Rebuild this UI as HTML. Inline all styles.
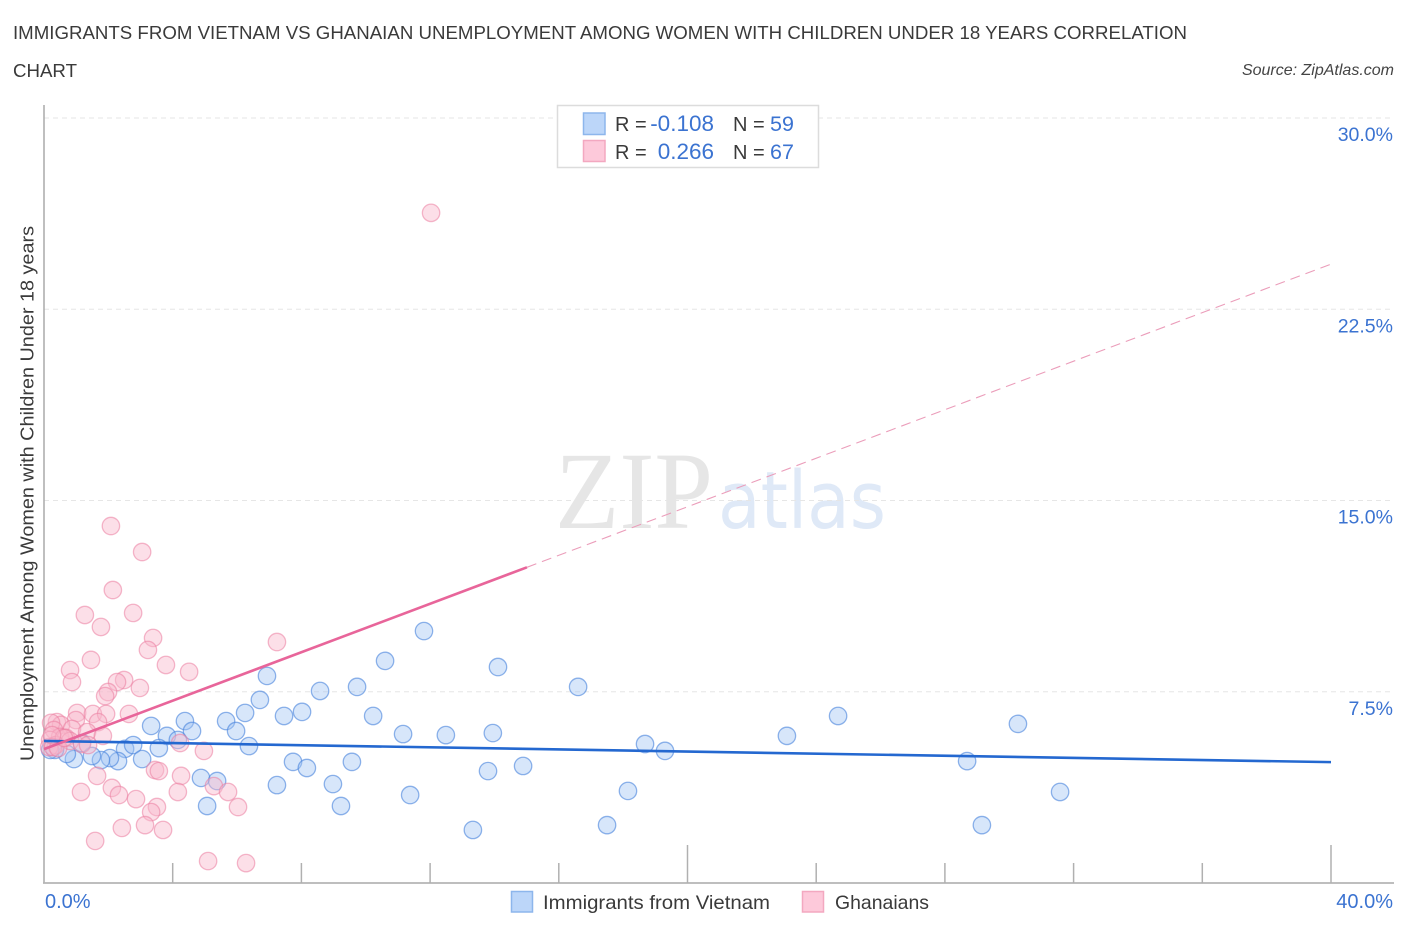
<!DOCTYPE html>
<html>
<head>
<meta charset="utf-8">
<title>Immigrants from Vietnam vs Ghanaian Unemployment Correlation Chart</title>
<style>
html,body{margin:0;padding:0;background:#fff;width:1406px;height:930px;overflow:hidden}
svg{display:block;font-family:"Liberation Sans",sans-serif}
</style>
</head>
<body>
<svg id="chart" width="1406" height="930" viewBox="0 0 1406 930" xmlns="http://www.w3.org/2000/svg">
  <rect x="0" y="0" width="1406" height="930" fill="#ffffff"/>
  <text x="13" y="39" font-size="18.5" fill="#3a3a3a" textLength="1174" lengthAdjust="spacingAndGlyphs">IMMIGRANTS FROM VIETNAM VS GHANAIAN UNEMPLOYMENT AMONG WOMEN WITH CHILDREN UNDER 18 YEARS CORRELATION</text>
  <text x="13" y="77" font-size="18.5" fill="#3a3a3a" textLength="64" lengthAdjust="spacingAndGlyphs">CHART</text>
  <text x="1394" y="75" font-size="16" font-style="italic" fill="#444" text-anchor="end">Source: ZipAtlas.com</text>

  <g>
    <text x="555" y="528" style="font-family:'Liberation Serif',serif" font-size="110" fill="#e6e6e6" textLength="158" lengthAdjust="spacingAndGlyphs">ZIP</text>
    <text x="718" y="528" style="font-family:'DejaVu Sans',sans-serif" font-size="79" fill="#dfe9f7" textLength="168" lengthAdjust="spacingAndGlyphs">atlas</text>
  </g>

  <g id="grid"></g>
  <g id="axes"></g>
  <g id="points-vietnam"></g>
  <g id="points-ghana"></g>
  <g id="trends"></g>
  <g id="tick-labels"></g>

  <text transform="translate(33.5,493.5) rotate(-90)" font-size="18" fill="#3a3a3a" text-anchor="middle" textLength="535" lengthAdjust="spacingAndGlyphs">Unemployment Among Women with Children Under 18 years</text>

  <g>
    <rect x="557.5" y="105.5" width="261" height="62" fill="#fff" stroke="#dcdcdc" stroke-width="1.5"/>
    <rect x="583.5" y="113" width="21.5" height="21.5" fill="#bcd6f9" stroke="#8db6ec" stroke-width="1.5"/>
    <rect x="583.5" y="140.5" width="21.5" height="21" fill="#fdc9da" stroke="#f3a8c0" stroke-width="1.5"/>
    <text x="615" y="131" font-size="20" fill="#3a3a3a">R =</text>
    <text x="714" y="131" font-size="22.5" fill="#3b73d1" text-anchor="end">-0.108</text>
    <text x="733" y="131" font-size="20" fill="#3a3a3a">N =</text>
    <text x="770" y="131" font-size="21.5" fill="#3b73d1">59</text>
    <text x="615" y="159" font-size="20" fill="#3a3a3a">R =</text>
    <text x="714" y="159" font-size="22.5" fill="#3b73d1" text-anchor="end">0.266</text>
    <text x="733" y="159" font-size="20" fill="#3a3a3a">N =</text>
    <text x="770" y="159" font-size="21.5" fill="#3b73d1">67</text>
  </g>

  <g>
    <rect x="511.5" y="891.5" width="21" height="20.5" fill="#bcd6f9" stroke="#8db6ec" stroke-width="1.5"/>
    <text x="543" y="909" font-size="19.5" fill="#3a3a3a" textLength="227" lengthAdjust="spacingAndGlyphs">Immigrants from Vietnam</text>
    <rect x="802.5" y="891.5" width="21" height="20.5" fill="#fdc9da" stroke="#f3a8c0" stroke-width="1.5"/>
    <text x="835" y="909" font-size="19.5" fill="#3a3a3a" textLength="94" lengthAdjust="spacingAndGlyphs">Ghanaians</text>
  </g>
</svg>
<script>
var vietnamX = [11.81,10.60,14.11,6.93,8.58,9.73,16.60,6.71,6.25,8.02,7.46,10.23,24.68,30.27,3.33,4.38,5.66,5.97,4.60,3.82,4.16,11.16,12.49,13.95,23.09,18.68,19.30,6.37,3.57,2.52,2.77,3.05,2.30,2.05,1.77,1.49,0.93,0.71,1.18,7.74,8.17,9.57,14.89,13.80,28.69,4.88,5.38,7.24,8.98,18.15,31.58,11.38,5.07,9.23,13.33,17.50,29.15,0.34,0.19];
var vietnamY = [9.88,8.71,8.47,8.12,7.53,7.69,7.69,7.18,6.67,6.71,6.55,6.55,6.55,6.24,6.16,6.35,6.35,5.96,5.96,5.77,5.61,5.84,5.80,5.88,5.77,5.45,5.18,5.37,5.29,5.26,5.41,4.86,4.78,4.90,4.82,4.98,4.86,5.06,5.49,4.75,4.51,4.75,4.59,4.39,4.78,4.12,4.00,3.84,3.88,3.61,3.57,3.45,3.02,3.02,2.08,2.27,2.27,5.22,5.22];
var ghanaX = [12.03,2.08,3.05,2.14,2.77,1.27,1.77,3.39,3.23,1.46,3.79,0.81,4.51,0.87,2.49,2.27,2.98,7.24,1.99,1.90,2.64,1.03,1.52,1.93,1.68,0.99,0.40,0.53,0.22,0.31,0.87,1.34,1.83,0.50,0.68,0.19,0.37,0.81,1.18,1.37,4.23,4.97,0.16,0.28,0.44,1.65,3.45,3.57,4.26,1.15,2.11,2.33,2.86,4.16,5.28,5.72,3.51,6.03,3.33,3.14,2.42,3.70,1.59,5.10,6.28,0.62,0.25];
var ghanaY = [26.28,14.00,12.98,11.49,10.59,10.51,10.04,9.61,9.14,8.75,8.55,8.35,8.28,7.88,7.96,7.88,7.65,9.45,7.49,7.33,6.63,6.67,6.63,6.63,6.31,6.39,6.31,6.20,6.28,6.00,6.04,5.92,5.77,5.73,5.69,5.61,5.41,5.57,5.45,5.41,5.49,5.18,5.33,5.33,5.29,4.20,4.43,4.39,4.20,3.57,3.73,3.45,3.29,3.57,3.80,3.57,2.98,2.98,2.78,2.27,2.16,2.08,1.65,0.86,0.78,5.69,5.80];
var vietnamTrendX = [0,40];
var vietnamTrendY = [5.57,4.74];
var ghanaSolidX = [0,15.01];
var ghanaSolidY = [5.25,12.38];
var ghanaDashX = [15.01,40];
var ghanaDashY = [12.38,24.27];
var yTickValues = [7.5,15,22.5,30];
var yTickLabels = ['7.5%','15.0%','22.5%','30.0%'];
var xTickValues = [4,8,12,16,20,24,28,32,36,40];
var xMajorTicks = [20,40];
var xEndValues = [0,40];
var xEndLabels = ['0.0%','40.0%'];

var NS = 'http://www.w3.org/2000/svg';
function xScale(v){ return 44 + v * 1287 / 40; }
function yScale(v){ return 883 - v * 765 / 30; }
function make(tag, parentId, attrs){
  var el = document.createElementNS(NS, tag);
  for (var k in attrs) el.setAttribute(k, attrs[k]);
  document.getElementById(parentId).appendChild(el);
  return el;
}

yTickValues.forEach(function(v, i){
  var g = make('line', 'grid', {x1:44, x2:1394, y1:yScale(v), y2:yScale(v), stroke:'#e6e6e6', 'stroke-width':1, 'stroke-dasharray':'5 4'});
  
  
  var t = make('text', 'tick-labels', {x:1393, y:yScale(v) + 23, 'text-anchor':'end', 'font-size':19.5, fill:'#3b73d1'});
  t.textContent = yTickLabels[i];
  
  
});

var yAxisLine = make('line', 'axes', {x1:44, x2:44, y1:105, y2:883, stroke:'#aaaaaa', 'stroke-width':1.5});


var xAxisLine = make('line', 'axes', {x1:43, x2:1394, y1:883, y2:883, stroke:'#b4b4b4', 'stroke-width':1.8});



xTickValues.forEach(function(v){
  var top = xMajorTicks.indexOf(v) >= 0 ? 845 : 863;
  var tick = make('line', 'axes', {x1:xScale(v), x2:xScale(v), y1:top, y2:883, stroke:'#b0b0b0', 'stroke-width':1.5});
  
  
});

xEndValues.forEach(function(v, i){
  var t = make('text', 'tick-labels', {x:i === 0 ? xScale(v) + 1 : 1393, y:908, 'text-anchor':i === 0 ? 'start' : 'end', 'font-size':20, fill:'#3b73d1'});
  t.textContent = xEndLabels[i];
  
  
});

vietnamX.forEach(function(v, i){
  var c = make('circle', 'points-vietnam', {cx:xScale(v), cy:yScale(vietnamY[i]), r:8.7, fill:'rgba(160,195,242,0.42)', stroke:'rgba(70,130,220,0.6)', 'stroke-width':1.3});
  
  
});

ghanaX.forEach(function(v, i){
  var c = make('circle', 'points-ghana', {cx:xScale(v), cy:yScale(ghanaY[i]), r:8.7, fill:'rgba(248,185,205,0.45)', stroke:'rgba(235,125,160,0.55)', 'stroke-width':1.3});
  
  
});

var l1 = make('line', 'trends', {x1:xScale(vietnamTrendX[0]), y1:yScale(vietnamTrendY[0]), x2:xScale(vietnamTrendX[1]), y2:yScale(vietnamTrendY[1]), stroke:'#2468d0', 'stroke-width':2.6});


var l2 = make('line', 'trends', {x1:xScale(ghanaSolidX[0]), y1:yScale(ghanaSolidY[0]), x2:xScale(ghanaSolidX[1]), y2:yScale(ghanaSolidY[1]), stroke:'#e8659a', 'stroke-width':2.6});


var l3 = make('line', 'trends', {x1:xScale(ghanaDashX[0]), y1:yScale(ghanaDashY[0]), x2:xScale(ghanaDashX[1]), y2:yScale(ghanaDashY[1]), stroke:'#eb9dba', 'stroke-width':1.1, 'stroke-dasharray':'10 6'});


</script>
</body>
</html>
